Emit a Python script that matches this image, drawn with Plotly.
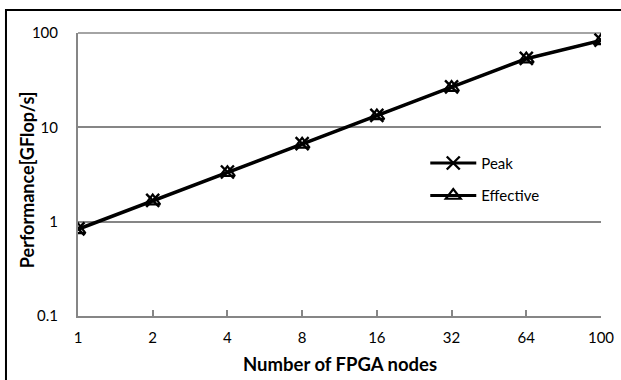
import plotly.graph_objects as go

nodes = ["1", "2", "4", "8", "16", "32", "64", "100"]
peak = [0.84, 1.68, 3.36, 6.72, 13.4, 26.9, 53.8, 84.0]
effective = [0.82, 1.65, 3.3, 6.6, 13.2, 26.4, 52.8, 82.5]
y_ticks = [0.1, 1, 10, 100]
y_tick_text = ["0.1", "1", "10", "100"]

font = "Lato, 'Open Sans', sans-serif"
xi = list(range(len(nodes)))

fig = go.Figure()
fig.add_trace(go.Scatter(
    x=xi, y=peak, name="Peak", mode="lines+markers",
    line=dict(color="black", width=2.8),
    marker=dict(symbol="x-thin-open", size=13, line=dict(color="black", width=2.4), color="black"),
    legendgroup="a"))
fig.add_trace(go.Scatter(
    x=xi, y=effective, name="Effective", mode="lines+markers",
    line=dict(color="black", width=2.8),
    marker=dict(symbol="triangle-up-open", size=13, line=dict(color="black", width=2.2), color="black"),
    legendgroup="b"))

fig.update_layout(
    width=621, height=380,
    margin=dict(l=78, r=20, t=33, b=64, autoexpand=False),
    paper_bgcolor="white", plot_bgcolor="white",
    font=dict(family=font, size=15, color="black"),
    showlegend=True,
    legend=dict(x=0.664, y=0.598, xanchor="left", yanchor="top",
                bgcolor="rgba(0,0,0,0)", font=dict(size=15),
                tracegroupgap=10, itemwidth=46),
    xaxis=dict(
        range=[0, 7], tickmode="array", tickvals=xi, ticktext=nodes,
        showgrid=False, zeroline=False, automargin=False,
        showline=True, linecolor="#868686", linewidth=2,
        ticks="inside", ticklen=6, tickwidth=1.5, tickcolor="#868686",
        ticklabelstandoff=7,
    ),
    yaxis=dict(
        type="log", range=[-1, 2], tickmode="array", tickvals=y_ticks, ticktext=y_tick_text,
        showgrid=True, gridcolor="#868686", gridwidth=1.5, zeroline=False, automargin=False,
        showline=True, linecolor="#868686", linewidth=2,
        ticks="", ticklabelstandoff=15,
    ),
)

fig.add_annotation(text="<b>Number of FPGA nodes</b>", xref="paper", yref="paper",
                   x=0.5, y=-0.17, xanchor="center", yanchor="middle",
                   showarrow=False, font=dict(size=18.5))
fig.add_annotation(text="<b>Performance[GFlop/s]</b>", xref="paper", yref="paper",
                   x=-0.0975, y=0.48, xanchor="center", yanchor="middle", textangle=-90,
                   showarrow=False, font=dict(size=18))

fig.add_shape(type="rect", xref="paper", yref="paper",
              x0=-0.1377, x1=1.2, y0=-0.4, y1=1.081,
              line=dict(color="black", width=2), layer="above")
# top grid line at 100
fig.add_shape(type="line", xref="paper", yref="paper", x0=0, x1=1, y0=1, y1=1,
              line=dict(color="#868686", width=1.5), layer="below")

fig.write_html("out.html")
